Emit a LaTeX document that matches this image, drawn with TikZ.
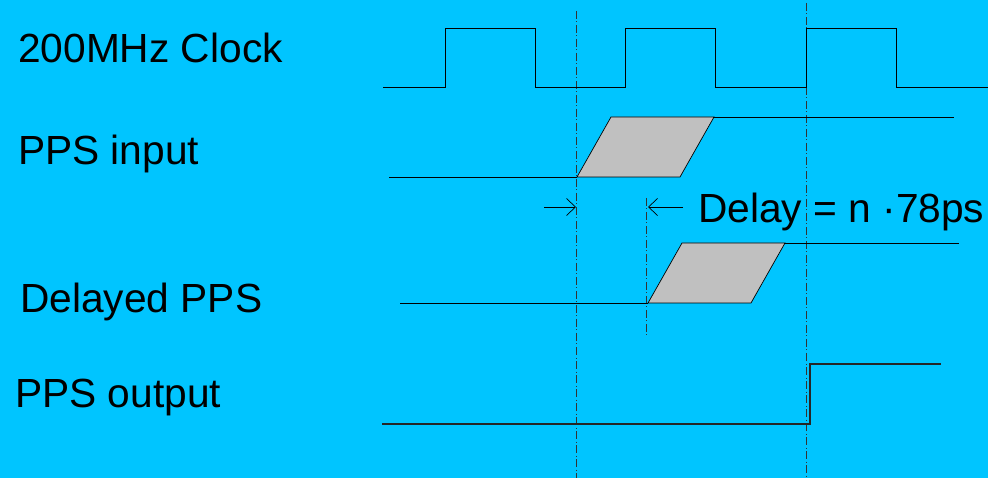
\documentclass[tikz,border=0pt]{standalone}
\usepackage{fontspec}
\setmainfont{Liberation Sans}
\usetikzlibrary{arrows.meta}
\definecolor{bgblue}{RGB}{0,197,255}
\definecolor{boxgray}{RGB}{192,192,192}
\begin{document}
\begin{tikzpicture}[x=1pt,y=-1pt,
  wave/.style={draw=black,line width=0.9pt,line join=miter},
  slope/.style={draw=black,fill=boxgray,line width=0.7pt},
  guide/.style={draw=black!80,line width=0.8pt,dash pattern=on 8pt off 2.5pt on 1pt off 2.5pt},
  lbl/.style={anchor=base west,inner sep=0pt,font=\fontsize{40.7}{48}\selectfont},
  dimarrow/.style={draw=black,line width=0.7pt,-{Straight Barb[length=9pt,width=17pt,line width=0.7pt]}}]
\fill[bgblue] (0,0) rectangle (988,478);
\useasboundingbox (0,0) rectangle (988,478);
% labels
\node[lbl] (lclk) at (18,63) {200MHz Clock};
\node[lbl] (lin) at (18,165) {PPS input};
\node[lbl] (ldel) at (20,313) {Delayed PPS};
\node[lbl] (lout) at (15,407) {PPS output};
\node[lbl] (ldelay) at (698,223) {Delay = n ·78ps};
% guide lines
\coordinate (g1t) at (576,11); \coordinate (g1b) at (576,478);
\coordinate (g2t) at (646,198); \coordinate (g2b) at (646,335);
\coordinate (g3t) at (806,3); \coordinate (g3b) at (806,478);
\draw[guide] (g1t) -- (g1b);
\draw[guide] (g2t) -- (g2b);
\draw[guide] (g3t) -- (g3b);
% clock
\draw[wave] (383,87) -- (445,87) -- (445,28) -- (535,28) -- (535,87) -- (625,87) -- (625,28) -- (715,28) -- (715,87) -- (806,87) -- (806,28) -- (896,28) -- (896,87) -- (988,87);
% PPS input
\draw[slope] (577,177) -- (611,117) -- (714,117) -- (680,177) -- cycle;
\draw[wave] (389,177) -- (577,177);
\draw[wave] (714,117) -- (954,117);
% delayed PPS
\draw[slope] (648,303) -- (682,243) -- (785,243) -- (751,303) -- cycle;
\draw[wave] (400,303) -- (648,303);
\draw[wave] (785,243) -- (959,243);
% PPS output
\draw[wave,line width=1.2pt,draw=black!85] (382,424) -- (810,424) -- (810,364) -- (941,364);
% delay arrows
\coordinate (a1s) at (544,207); \coordinate (a1e) at (576,207);
\coordinate (a2s) at (683,207); \coordinate (a2e) at (648,207);
\draw[dimarrow] (a1s) -- (a1e);
\draw[dimarrow] (a2s) -- (a2e);
\end{tikzpicture}
\end{document}
